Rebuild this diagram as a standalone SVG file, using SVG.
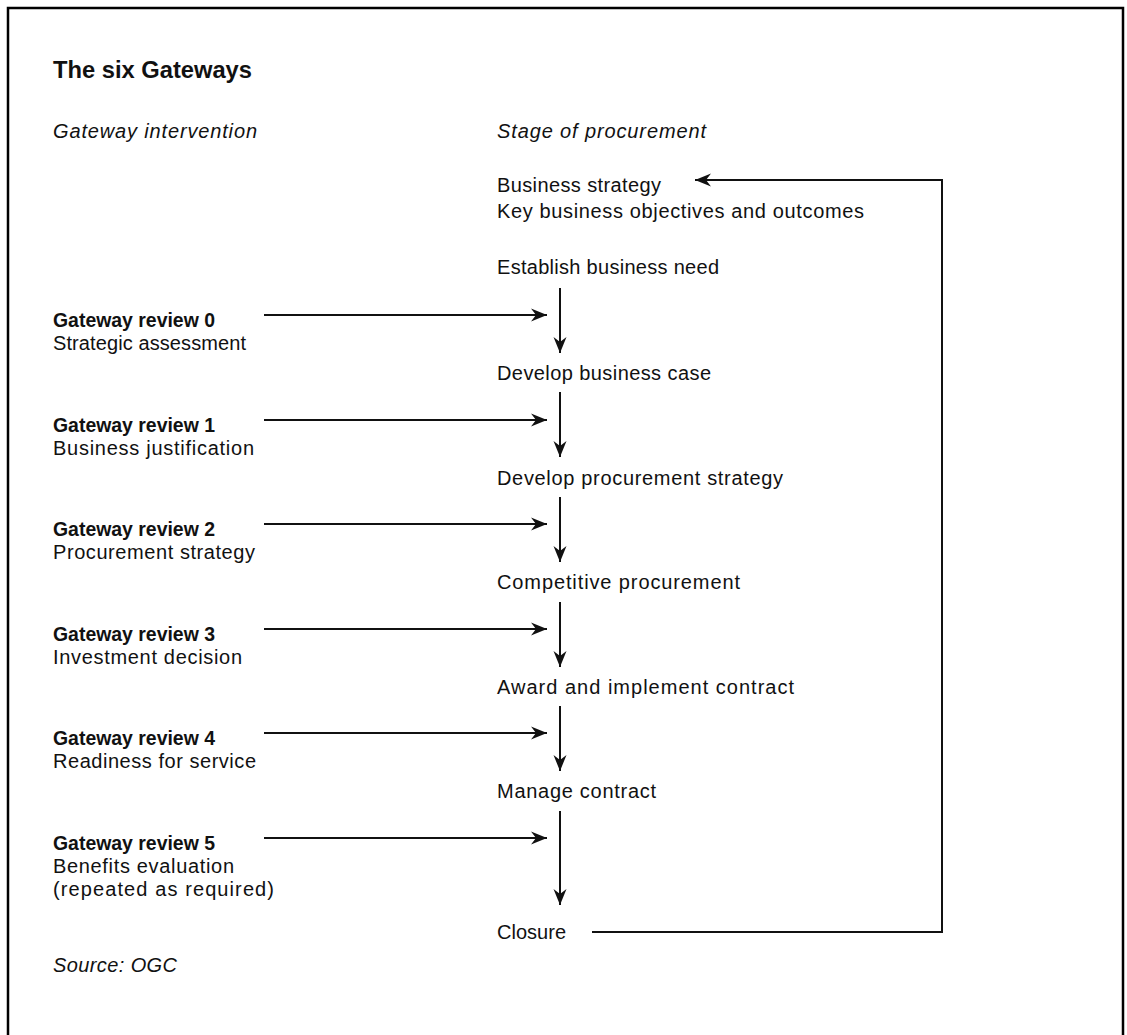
<svg xmlns="http://www.w3.org/2000/svg" width="1127" height="1035" viewBox="0 0 1127 1035">
<style>
text{font-family:"Liberation Sans",Arial,sans-serif;font-size:20px;fill:#111}
.b{font-weight:bold}
.i{font-style:italic}
.t{font-weight:bold;font-size:24px}
.ln{stroke:#111;stroke-width:2;fill:none}
</style>
<defs>
<marker id="ah" markerUnits="userSpaceOnUse" markerWidth="18" markerHeight="16" refX="16" refY="8" orient="auto">
<path d="M0,1.5 L16,8 L0,14.5 L5,8 Z" fill="#111"/>
</marker>
</defs>
<rect x="0" y="0" width="1127" height="1035" fill="#fff"/>
<path d="M8,1040 V8 H1123 V1040" fill="none" stroke="#000" stroke-width="2.5"/>
<g id="title"><text class="t" x="53" y="78" textLength="199" lengthAdjust="spacingAndGlyphs">The six Gateways</text></g>
<g id="headers">
<text class="i" x="53" y="138" textLength="204" lengthAdjust="spacing">Gateway intervention</text>
<text class="i" x="497" y="138" textLength="209" lengthAdjust="spacing">Stage of procurement</text>
</g>
<g id="stage-strategy"><text x="497" y="192" textLength="164" lengthAdjust="spacing">Business strategy</text><text x="497" y="218" textLength="367" lengthAdjust="spacing">Key business objectives and outcomes</text></g>
<g id="stage-need"><text x="497" y="274" textLength="222" lengthAdjust="spacing">Establish business need</text></g>
<g id="stage-case"><text x="497" y="380" textLength="214" lengthAdjust="spacing">Develop business case</text></g>
<g id="stage-strat"><text x="497" y="485" textLength="286" lengthAdjust="spacing">Develop procurement strategy</text></g>
<g id="stage-comp"><text x="497" y="589" textLength="243" lengthAdjust="spacing">Competitive procurement</text></g>
<g id="stage-award"><text x="497" y="694" textLength="297" lengthAdjust="spacing">Award and implement contract</text></g>
<g id="stage-manage"><text x="497" y="798" textLength="159" lengthAdjust="spacing">Manage contract</text></g>
<g id="stage-closure"><text x="497" y="939" textLength="69" lengthAdjust="spacing">Closure</text></g>
<g id="gw0"><text class="b" x="53" y="327" textLength="162" lengthAdjust="spacingAndGlyphs">Gateway review 0</text><text x="53" y="350" textLength="193" lengthAdjust="spacing">Strategic assessment</text></g>
<g id="gw1"><text class="b" x="53" y="432" textLength="162" lengthAdjust="spacingAndGlyphs">Gateway review 1</text><text x="53" y="455" textLength="201" lengthAdjust="spacing">Business justification</text></g>
<g id="gw2"><text class="b" x="53" y="536" textLength="162" lengthAdjust="spacingAndGlyphs">Gateway review 2</text><text x="53" y="559" textLength="202" lengthAdjust="spacing">Procurement strategy</text></g>
<g id="gw3"><text class="b" x="53" y="641" textLength="162" lengthAdjust="spacingAndGlyphs">Gateway review 3</text><text x="53" y="664" textLength="189" lengthAdjust="spacing">Investment decision</text></g>
<g id="gw4"><text class="b" x="53" y="745" textLength="162" lengthAdjust="spacingAndGlyphs">Gateway review 4</text><text x="53" y="768" textLength="203" lengthAdjust="spacing">Readiness for service</text></g>
<g id="gw5"><text class="b" x="53" y="850" textLength="162" lengthAdjust="spacingAndGlyphs">Gateway review 5</text><text x="53" y="873" textLength="181" lengthAdjust="spacing">Benefits evaluation</text><text x="53" y="896" textLength="221" lengthAdjust="spacing">(repeated as required)</text></g>
<g id="source"><text class="i" x="53" y="972" textLength="124" lengthAdjust="spacing">Source: OGC</text></g>
<g id="connectors">
<path class="ln" d="M264,315 H547" marker-end="url(#ah)"/>
<path class="ln" d="M264,420 H547" marker-end="url(#ah)"/>
<path class="ln" d="M264,524 H547" marker-end="url(#ah)"/>
<path class="ln" d="M264,629 H547" marker-end="url(#ah)"/>
<path class="ln" d="M264,733 H547" marker-end="url(#ah)"/>
<path class="ln" d="M264,838 H547" marker-end="url(#ah)"/>
<path class="ln" d="M560,288 V353" marker-end="url(#ah)"/>
<path class="ln" d="M560,392 V457" marker-end="url(#ah)"/>
<path class="ln" d="M560,497 V562" marker-end="url(#ah)"/>
<path class="ln" d="M560,602 V667" marker-end="url(#ah)"/>
<path class="ln" d="M560,706 V771" marker-end="url(#ah)"/>
<path class="ln" d="M560,811 V905" marker-end="url(#ah)"/>
<path class="ln" d="M592,932 H942 V180 H695" marker-end="url(#ah)"/>
</g>
</svg>
